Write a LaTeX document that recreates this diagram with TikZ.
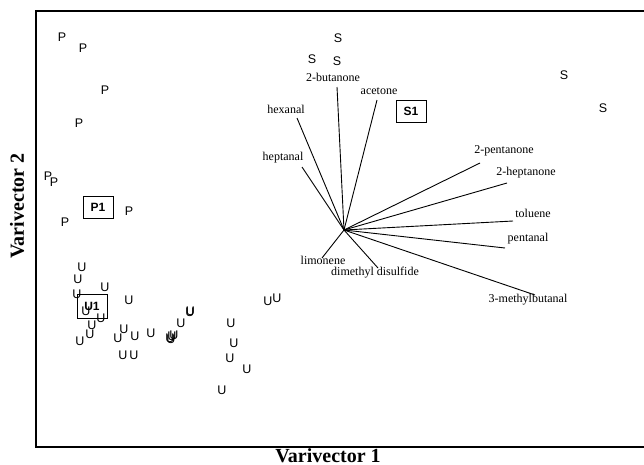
\documentclass[tikz,border=0pt]{standalone}
\usepackage{fontspec}
\setmainfont{Liberation Serif}
\newfontfamily\markfont{Liberation Sans}
\begin{document}
\begin{tikzpicture}[x=1pt,y=-1pt,
  frame/.style={line width=1.3pt},
  vec/.style={line width=0.9pt},
  mk/.style={font=\markfont\fontsize{12.5}{12.5}\selectfont, inner sep=0pt},
  cls/.style={draw, line width=0.9pt, font=\markfont\bfseries\fontsize{12}{12}\selectfont, minimum width=30pt, minimum height=22pt, inner sep=0pt},
  vl/.style={font=\fontsize{12}{12}\selectfont, inner sep=0pt},
  axl/.style={font=\bfseries\fontsize{20}{20}\selectfont, inner sep=0pt}]
\useasboundingbox (0,0) rectangle (644,464);
% frame
\draw[frame] (644,11) -- (36,11) -- (36,447) -- (644,447);
% axis labels
\node[axl, anchor=base] (ax1) at (328,462) {Varivector 1};
\node[axl, rotate=90] (ax2) at (17,206) {Varivector 2};
% vectors
\coordinate (c) at (344,230);
\coordinate (e1) at (337,87);
\coordinate (e2) at (377,100);
\coordinate (e3) at (297,118);
\coordinate (e4) at (302,167);
\coordinate (e5) at (480,163);
\coordinate (e6) at (507,183);
\coordinate (e7) at (513,221);
\coordinate (e8) at (505,248);
\coordinate (e9) at (535,295);
\coordinate (e10) at (322,258);
\coordinate (e11) at (378,268);
\foreach \i in {1,...,11} \draw[vec] (c) -- (e\i);
% vector labels
\node[vl] (l1) at (333,77) {2-butanone};
\node[vl] (l2) at (379,91) {acetone};
\node[vl] (l3) at (286,109) {hexanal};
\node[vl] (l4) at (283,158) {heptanal};
\node[vl] (l5) at (504,151) {2-pentanone};
\node[vl] (l6) at (526,173) {2-heptanone};
\node[vl] (l7) at (533,213) {toluene};
\node[vl] (l8) at (528,239) {pentanal};
\node[vl] (l9) at (528,300) {3-methylbutanal};
\node[vl] (l10) at (323,260) {limonene};
\node[vl] (l11) at (375,273) {dimethyl disulfide};
% class boxes
\node[cls] (S1) at (411,111) {S1};
\node[cls] (P1) at (98,207) {P1};
\node[cls, minimum height=24pt] (U1) at (92,306) {U1};
% S markers
\foreach \p [count=\k] in {(338,38),(312,59),(337,61),(564,75),(603,108)}
  \node[mk] (s\k) at \p {S};
% P markers
\foreach \p [count=\k] in {(62,37),(83,48),(105,90),(79,123),(48,176),(54,182),(129,211),(65,222)}
  \node[mk] (p\k) at \p {P};
% U markers
\foreach \p [count=\k] in {(82,267),(78,279),(105,287),(77,294),(129,300),(86,311),(101,318),
  (92,325),(90,334),(80,341),(124,329),(118,338),(135,336),(151,333),(123,355),(134,355),
  (170,338),(172,336),(174,335),(171,339),(181,323),(190,312),(190.5,311),
  (231,323),(234,343),(230,358),(247,369),(222,390),(268,301),(277,298)}
  \node[mk] (u\k) at \p {U};
\end{tikzpicture}
\end{document}
